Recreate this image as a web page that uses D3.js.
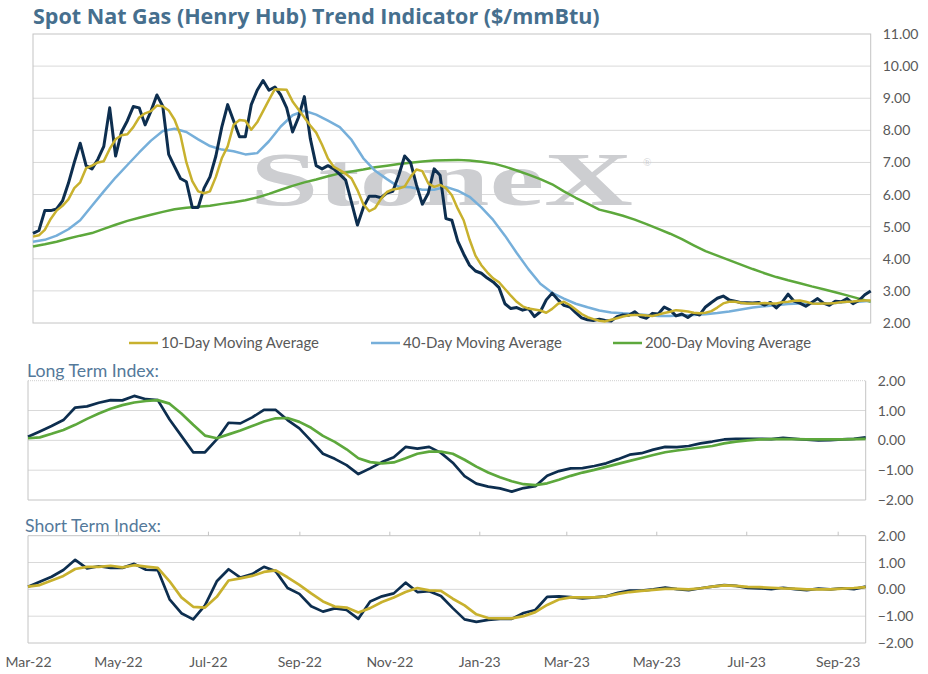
<!DOCTYPE html>
<html>
<head>
<meta charset="utf-8">
<script src="https://cdn.jsdelivr.net/npm/d3@7"></script>
<style>
  body { margin: 0; background: #fff; }
  svg { display: block; }
  text { font-family: Lato, "Open Sans", sans-serif; }
</style>
</head>
<body>
<div id="chart"></div>
<script>
// ---- data ----
const startDate = new Date(2022, 2, 1);   // first observation
const priceStepDays = 4;                   // spacing of spot / 10-day series
const slowStepDays = 8;                    // spacing of smoother series

const spotPrice = [
  4.79, 4.88, 5.5, 5.5, 5.55, 5.8, 6.35, 7.0, 7.6, 6.9,
  6.8, 7.1, 7.5, 8.7, 7.2, 7.95, 8.3, 8.74, 8.7, 8.17,
  8.6, 9.1, 8.75, 7.25, 6.87, 6.5, 6.4, 5.6, 5.6, 6.2,
  6.55, 7.2, 8.1, 8.8, 8.3, 7.8, 7.8, 8.8, 9.25, 9.55,
  9.25, 9.35, 9.1, 8.7, 7.95, 8.4, 9.05, 7.75, 6.9, 6.8,
  6.9, 6.8, 6.63, 6.45, 5.75, 5.05, 5.6, 5.95, 5.95, 5.9,
  6.05, 6.1, 6.6, 7.2, 7.0, 6.3, 5.7, 6.04, 6.8, 6.6,
  5.25, 5.2, 4.55, 4.15, 3.8, 3.62, 3.55, 3.4, 3.28, 3.1,
  2.6, 2.45, 2.48, 2.4, 2.45, 2.2, 2.35, 2.72, 2.93, 2.72,
  2.55, 2.5, 2.32, 2.16, 2.1, 2.08, 2.12, 2.08, 2.06, 2.2,
  2.25, 2.24, 2.35, 2.2, 2.15, 2.3, 2.28, 2.5, 2.4, 2.22,
  2.28, 2.17, 2.3, 2.25, 2.5, 2.64, 2.77, 2.84, 2.72, 2.68,
  2.63, 2.63, 2.62, 2.64, 2.56, 2.64, 2.47, 2.65, 2.9, 2.68,
  2.62, 2.52, 2.64, 2.76, 2.62, 2.55, 2.68, 2.66, 2.76, 2.6,
  2.7, 2.88, 3.0
];
const ma10 = [
  4.69, 4.73, 4.9, 5.24, 5.5, 5.65, 5.85, 6.2, 6.38, 6.82,
  6.9, 7.0, 7.04, 7.42, 7.72, 7.85, 7.88, 8.1, 8.4, 8.53,
  8.6, 8.77, 8.75, 8.62, 8.33, 7.85, 7.0, 6.42, 6.1, 6.04,
  6.1, 6.55, 7.13, 7.5, 8.17, 8.32, 8.3, 8.02, 8.25, 8.6,
  8.95, 9.28, 9.27, 9.26, 8.9, 8.65, 8.4, 8.15, 7.93, 7.55,
  7.12, 6.86, 6.76, 6.65, 6.5, 6.14, 5.7, 5.48, 5.58, 5.87,
  6.08, 6.16, 6.19, 6.25, 6.55, 6.78, 6.73, 6.35, 6.24, 6.3,
  6.2, 5.98, 5.56, 5.2, 4.6, 4.1, 3.8, 3.58, 3.39, 3.27,
  3.06, 2.85, 2.66, 2.52, 2.45, 2.42, 2.39, 2.32, 2.44, 2.6,
  2.66, 2.56, 2.42, 2.28, 2.18, 2.12, 2.07, 2.05, 2.1, 2.15,
  2.2, 2.24, 2.25, 2.25, 2.23, 2.22, 2.26, 2.31, 2.35, 2.4,
  2.38, 2.36, 2.32, 2.3, 2.32, 2.37, 2.48, 2.61, 2.66, 2.66,
  2.63, 2.61, 2.61, 2.61, 2.62, 2.61, 2.61, 2.65, 2.66, 2.69,
  2.7, 2.66, 2.61, 2.6, 2.61, 2.61, 2.62, 2.65, 2.66, 2.67,
  2.69, 2.7, 2.7
];
const ma40 = [
  4.53, 4.59, 4.72, 4.92, 5.2, 5.65, 6.1, 6.53, 6.92, 7.31,
  7.68, 7.98, 8.05, 7.95, 7.72, 7.51, 7.4, 7.35, 7.25, 7.29,
  7.66, 8.12, 8.47, 8.61, 8.49, 8.3, 8.1, 7.7, 7.13, 6.74,
  6.48, 6.24, 6.23, 6.15, 6.15, 6.24, 6.12, 5.93, 5.6, 5.21,
  4.72, 4.18, 3.67, 3.22, 2.94, 2.76, 2.6, 2.49, 2.39, 2.33,
  2.3, 2.28, 2.25, 2.22, 2.22, 2.24, 2.25, 2.27, 2.31, 2.36,
  2.42, 2.48, 2.52, 2.55, 2.59, 2.61, 2.61, 2.61, 2.62, 2.66,
  2.66, 2.69
];
const ma200 = [
  4.38, 4.45, 4.53, 4.63, 4.72, 4.8, 4.93, 5.06, 5.18, 5.28,
  5.37, 5.46, 5.54, 5.59, 5.62, 5.65, 5.71, 5.76, 5.82, 5.91,
  6.02, 6.15, 6.27, 6.38, 6.47, 6.57, 6.66, 6.72, 6.78, 6.85,
  6.9, 6.95, 6.99, 7.03, 7.06, 7.07, 7.08, 7.06, 7.02, 6.97,
  6.87, 6.75, 6.62, 6.48, 6.32, 6.1, 5.9, 5.72, 5.53, 5.44,
  5.34, 5.22, 5.08, 4.93, 4.78, 4.61, 4.42, 4.24, 4.1, 3.96,
  3.82, 3.68, 3.55, 3.43, 3.33, 3.24, 3.14, 3.05, 2.96, 2.86,
  2.76, 2.66
];
const longIndex = [
  0.12, 0.3, 0.48, 0.68, 1.1, 1.14, 1.26, 1.35, 1.34, 1.49,
  1.38, 1.35, 0.7, 0.15, -0.4, -0.4, 0.03, 0.59, 0.57, 0.77,
  1.02, 1.02, 0.68, 0.4, -0.02, -0.45, -0.62, -0.83, -1.13, -0.94,
  -0.73, -0.57, -0.22, -0.28, -0.22, -0.42, -0.75, -1.2, -1.45, -1.55,
  -1.61, -1.72, -1.6, -1.54, -1.19, -1.03, -0.94, -0.93, -0.86, -0.77,
  -0.63, -0.48, -0.43, -0.31, -0.22, -0.23, -0.19, -0.1, -0.04, 0.03,
  0.05, 0.05, 0.05, 0.04, 0.08, 0.05, 0.02, 0.0, 0.01, 0.03,
  0.05, 0.1
];
const longSignal = [
  0.07, 0.1, 0.22, 0.35, 0.52, 0.72, 0.9, 1.06, 1.18, 1.27,
  1.32, 1.35, 1.23, 0.9, 0.52, 0.16, 0.07, 0.2, 0.33, 0.48,
  0.63, 0.74, 0.75, 0.62, 0.42, 0.15, -0.05, -0.3, -0.6, -0.73,
  -0.77, -0.74, -0.6, -0.45, -0.38, -0.38, -0.45, -0.65, -0.88, -1.08,
  -1.24, -1.37, -1.47, -1.5, -1.44, -1.32, -1.19, -1.08, -0.99, -0.89,
  -0.79, -0.69, -0.59, -0.49, -0.4, -0.34, -0.29, -0.24, -0.19, -0.1,
  -0.04, 0.0, 0.03, 0.04, 0.04, 0.04, 0.03, 0.03, 0.03, 0.03,
  0.04, 0.05
];
const shortIndex = [
  0.1, 0.28, 0.47, 0.72, 1.1, 0.78, 0.86, 0.8, 0.8, 0.95,
  0.73, 0.72, -0.37, -0.89, -1.12, -0.6, 0.3, 0.75, 0.44, 0.57,
  0.84, 0.67, 0.05, -0.17, -0.63, -0.83, -0.71, -0.77, -1.1, -0.45,
  -0.26, -0.15, 0.25, -0.1, -0.07, -0.25, -0.7, -1.12, -1.21, -1.14,
  -1.1, -1.1, -0.88, -0.77, -0.28, -0.26, -0.29, -0.34, -0.3, -0.26,
  -0.13, -0.05, -0.05, 0.0, 0.07, 0.01, -0.03, 0.04, 0.1, 0.16,
  0.13, 0.05, 0.04, 0.01, 0.06, 0.01, -0.03, 0.03, 0.0, 0.04,
  0.01, 0.1
];
const shortSignal = [
  0.1, 0.16, 0.33, 0.5, 0.76, 0.84, 0.84, 0.88, 0.82, 0.9,
  0.85, 0.8, 0.3, -0.3, -0.65, -0.68, -0.28, 0.33, 0.41, 0.5,
  0.65, 0.71, 0.45, 0.17, -0.15, -0.45, -0.64, -0.68, -0.86, -0.7,
  -0.47, -0.3, -0.1, 0.05, -0.04, -0.06, -0.35, -0.6, -0.93, -1.07,
  -1.08, -1.08, -1.0, -0.85, -0.58, -0.38, -0.3, -0.3, -0.3, -0.26,
  -0.17, -0.1, -0.06, -0.02, 0.02, 0.02, 0.0, 0.04, 0.1, 0.15,
  0.13, 0.09, 0.08, 0.06, 0.04, 0.03, 0.0, 0.0, 0.0, 0.03,
  0.05, 0.08
];

const priceTicks = [2, 3, 4, 5, 6, 7, 8, 9, 10, 11];
const indexTicks = [-2, -1, 0, 1, 2];
const monthTicks = ["Mar-22", "May-22", "Jul-22", "Sep-22", "Nov-22",
                    "Jan-23", "Mar-23", "May-23", "Jul-23", "Sep-23"];
const legendLabels = ["10-Day Moving Average", "40-Day Moving Average", "200-Day Moving Average"];

// ---- styling ----
const width = 928, height = 674;
const navy = "#0d2e4f", gold = "#c8b12e", sky = "#76afda", green = "#5da83c";
const gridColor = "#d9d9d9", borderColor = "#c4c4c4", tickText = "#595959";
const titleColor = "#466f8e";

const parseMonth = d3.timeParse("%b-%y");
const endDate = d3.timeDay.offset(startDate, 568);
const toSeries = (values, step) =>
  values.map((v, i) => ({ date: d3.timeDay.offset(startDate, i * step), value: v }));

// shrink/grow a text's font so it spans the width it has in the reference
const fitWidth = (sel, target) => {
  const w = sel.node().getComputedTextLength();
  const size = +sel.attr("font-size");
  sel.attr("font-size", (size * target / w).toFixed(2));
};

const svg = d3.select("#chart")
  .append("svg")
  .attr("width", width)
  .attr("height", height);

// Title
svg.append("text")
  .text("Spot Nat Gas (Henry Hub) Trend Indicator ($/mmBtu)")
  .attr("x", 33)
  .attr("y", 24)
  .attr("fill", titleColor)
  .attr("font-size", 20)
  .attr("font-weight", 700)
  .style("font-family", "'Open Sans', sans-serif")
  .call(fitWidth, 567);

/***************/
/* Price panel */
/***************/
const priceBox = { left: 33, right: 870.7, top: 34, bottom: 323 };
const xTop = d3.scaleTime().domain([startDate, endDate]).range([priceBox.left, priceBox.right]);
const yTop = d3.scaleLinear().domain([2, 11]).range([priceBox.bottom, priceBox.top]);

const topG = svg.append("g");

topG.selectAll("line.grid")
  .data(priceTicks.slice(1, -1))
  .join("line")
    .attr("class", "grid")
    .attr("x1", priceBox.left).attr("x2", priceBox.right)
    .attr("y1", d => yTop(d)).attr("y2", d => yTop(d))
    .attr("stroke", gridColor);

topG.append("rect")
  .attr("x", priceBox.left).attr("y", priceBox.top)
  .attr("width", priceBox.right - priceBox.left).attr("height", priceBox.bottom - priceBox.top)
  .attr("fill", "none").attr("stroke", borderColor);

// StoneX watermark
topG.append("text")
  .text("StoneX")
  .attr("x", 250).attr("y", 205)
  .attr("textLength", 383).attr("lengthAdjust", "spacingAndGlyphs")
  .style("font-family", "'Liberation Serif', 'DejaVu Serif', serif")
  .attr("font-size", 76)
  .attr("font-weight", 700)
  .attr("fill", "#cdced1");
topG.append("text")
  .text("®")
  .attr("x", 643).attr("y", 166)
  .style("font-family", "'Liberation Serif', serif")
  .attr("font-size", 11)
  .attr("fill", "#cdced1");

const topLine = d3.line().x(d => xTop(d.date)).y(d => yTop(d.value));
const topSeries = [
  { values: toSeries(ma200, slowStepDays), color: green, w: 2.5 },
  { values: toSeries(ma40, slowStepDays), color: sky, w: 2.5 },
  { values: toSeries(spotPrice, priceStepDays), color: navy, w: 3 },
  { values: toSeries(ma10, priceStepDays), color: gold, w: 2.5 }
];
topG.selectAll("path.series")
  .data(topSeries)
  .join("path")
    .attr("class", "series")
    .attr("d", d => topLine(d.values))
    .attr("fill", "none")
    .attr("stroke", d => d.color)
    .attr("stroke-width", d => d.w)
    .attr("stroke-linejoin", "round");

const rightAxisTop = d3.axisRight(yTop)
  .tickValues(priceTicks)
  .tickFormat(d3.format(".2f"))
  .tickSize(0)
  .tickPadding(12);
topG.append("g")
  .attr("transform", `translate(${priceBox.right},0)`)
  .call(rightAxisTop)
  .call(g => g.select(".domain").remove())
  .call(g => g.selectAll("text").attr("fill", tickText).attr("font-size", 14)
    .style("font-family", "Lato, sans-serif"));

// Legend
const legendX = [129, 371, 613];
const legendWidths = [158, 159, 166];
const legendColors = [gold, sky, green];
const legend = svg.append("g").attr("transform", "translate(0,343)");
legend.selectAll("line")
  .data(legendLabels)
  .join("line")
    .attr("x1", (d, i) => legendX[i]).attr("x2", (d, i) => legendX[i] + 29)
    .attr("stroke", (d, i) => legendColors[i])
    .attr("stroke-width", 2.5);
legend.selectAll("text")
  .data(legendLabels)
  .join("text")
    .text(d => d)
    .attr("x", (d, i) => legendX[i] + 32)
    .attr("dy", "0.35em")
    .attr("fill", tickText)
    .attr("font-size", 14)
    .each(function (d, i) { fitWidth(d3.select(this), legendWidths[i]); });

/*****************/
/* Index panels  */
/*****************/
const drawIndexPanel = (cfg) => {
  const x = d3.scaleTime().domain([startDate, endDate]).range([28, 865.7]);
  const y = d3.scaleLinear().domain([-2, 2]).range([cfg.bottom, cfg.top]);
  const g = svg.append("g");

  g.append("text")
    .text(cfg.title)
    .attr("x", cfg.titleX).attr("y", cfg.titleY)
    .attr("fill", "#54799a")
    .attr("font-size", 17)
    .call(fitWidth, cfg.titleW);

  g.selectAll("line.grid")
    .data([-1, 0, 1])
    .join("line")
      .attr("class", "grid")
      .attr("x1", 28).attr("x2", 865.7)
      .attr("y1", d => y(d)).attr("y2", d => y(d))
      .attr("stroke", gridColor);

  // frame: left, right, bottom solid; top as configured
  g.append("path")
    .attr("d", `M28,${cfg.top}V${cfg.bottom}H865.7V${cfg.top}`)
    .attr("fill", "none").attr("stroke", borderColor);
  g.append("line")
    .attr("x1", 28).attr("x2", 865.7)
    .attr("y1", cfg.top).attr("y2", cfg.top)
    .attr("stroke", cfg.dottedTop ? "#cfcfcf" : borderColor)
    .attr("stroke-dasharray", cfg.dottedTop ? "1,1" : null);

  if (cfg.topTicks) {
    g.append("g")
      .attr("transform", `translate(0,${cfg.top})`)
      .call(d3.axisTop(x).tickValues(monthTicks.map(parseMonth).slice(1)).tickSize(4).tickFormat(""))
      .call(a => a.select(".domain").remove())
      .call(a => a.selectAll("line").attr("stroke", borderColor));
  }

  const line = d3.line().x(d => x(d.date)).y(d => y(d.value));
  g.selectAll("path.series")
    .data([
      { values: toSeries(cfg.index, slowStepDays), color: navy },
      { values: toSeries(cfg.signal, slowStepDays), color: cfg.signalColor }
    ])
    .join("path")
      .attr("class", "series")
      .attr("d", d => line(d.values))
      .attr("fill", "none")
      .attr("stroke", d => d.color)
      .attr("stroke-width", 2.7)
      .attr("stroke-linejoin", "round");

  g.append("g")
    .attr("transform", "translate(865.7,0)")
    .call(d3.axisRight(y).tickValues(indexTicks).tickFormat(d3.format(".2f")).tickSize(0).tickPadding(12))
    .call(a => a.select(".domain").remove())
    .call(a => a.selectAll("text").attr("fill", tickText).attr("font-size", 14)
      .style("font-family", "Lato, sans-serif"));

  if (cfg.bottomLabels) {
    g.append("g")
      .attr("transform", `translate(0,${cfg.bottom})`)
      .call(d3.axisBottom(x).tickValues(monthTicks.map(parseMonth)).tickSize(0).tickPadding(14)
        .tickFormat(d3.timeFormat("%b-%y")))
      .call(a => a.select(".domain").remove())
      .call(a => a.selectAll("text").attr("fill", tickText).attr("font-size", 14)
        .style("font-family", "Lato, sans-serif"));
  }
};

drawIndexPanel({
  title: "Long Term Index:", titleX: 27, titleY: 377, titleW: 132,
  top: 380.7, bottom: 500, index: longIndex, signal: longSignal,
  signalColor: green, dottedTop: true
});
drawIndexPanel({
  title: "Short Term Index:", titleX: 25, titleY: 532, titleW: 136,
  top: 535.7, bottom: 643, index: shortIndex, signal: shortSignal,
  signalColor: gold, topTicks: true, bottomLabels: true
});
</script>
</body>
</html>
